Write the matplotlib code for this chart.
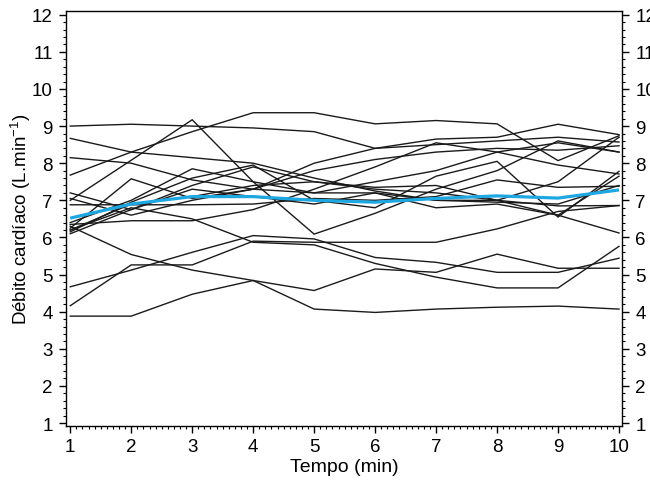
import matplotlib
matplotlib.use("Agg")
import matplotlib.pyplot as plt
from matplotlib.ticker import MultipleLocator

plt.rcParams['font.family'] = ['Liberation Sans', 'DejaVu Sans']

tempo = [1, 2, 3, 4, 5, 6, 7, 8, 9, 10]

# individual subjects (L.min-1)
s01 = [3.88, 3.88, 4.47, 4.84, 4.07, 3.98, 4.07, 4.12, 4.15, 4.07]
s02 = [4.16, 5.26, 5.26, 5.90, 5.87, 5.87, 5.87, 6.23, 6.70, 6.86]
s03 = [4.67, 5.12, 5.60, 6.05, 5.96, 5.46, 5.33, 5.06, 5.06, 5.44]
s04 = [6.30, 5.54, 5.12, 4.84, 4.57, 5.15, 5.06, 5.55, 5.17, 5.17]
s05 = [6.20, 6.80, 6.50, 5.87, 5.80, 5.30, 4.93, 4.64, 4.64, 5.76]
s06 = [9.00, 9.05, 9.00, 8.95, 8.85, 8.40, 8.50, 8.60, 8.70, 8.57]
s07 = [7.68, 8.30, 8.85, 9.36, 9.36, 9.06, 9.15, 9.06, 8.07, 8.74]
s08 = [7.00, 8.08, 9.17, 7.50, 6.09, 6.65, 7.30, 7.80, 8.60, 8.30]
s09 = [8.67, 8.30, 8.15, 8.00, 7.60, 7.25, 7.00, 7.00, 6.60, 6.12]
s10 = [8.15, 8.00, 7.55, 7.30, 7.20, 7.50, 7.80, 8.30, 7.95, 7.71]
s11 = [7.20, 6.75, 7.40, 7.90, 7.50, 7.30, 7.20, 7.00, 6.85, 6.86]
s12 = [7.05, 6.60, 7.00, 7.30, 8.00, 8.40, 8.65, 8.70, 9.05, 8.77]
s13 = [6.88, 6.88, 6.88, 6.90, 7.05, 7.00, 7.10, 7.55, 7.35, 7.38]
s14 = [6.40, 7.00, 7.85, 7.50, 7.20, 7.20, 6.80, 6.90, 6.60, 7.65]
s15 = [6.35, 6.45, 6.45, 6.75, 7.30, 7.90, 8.55, 8.30, 8.55, 8.30]
s16 = [6.25, 7.58, 7.05, 7.30, 7.80, 8.10, 8.30, 8.40, 8.35, 8.47]
s17 = [6.15, 6.95, 7.60, 7.95, 7.00, 6.80, 7.65, 8.05, 6.55, 7.78]
s18 = [6.20, 6.90, 7.10, 7.40, 7.50, 7.35, 7.40, 7.00, 7.50, 8.70]
s19 = [6.10, 6.75, 7.30, 7.10, 6.90, 7.20, 7.00, 6.95, 6.90, 7.40]

media = [6.52, 6.90, 7.10, 7.10, 7.00, 6.95, 7.05, 7.12, 7.06, 7.28]

sujeitos = [s01, s02, s03, s04, s05, s06, s07, s08, s09, s10,
            s11, s12, s13, s14, s15, s16, s17, s18, s19]

fig = plt.figure(figsize=(6.5, 4.85), dpi=100)
ax = fig.add_axes([0.1015, 0.1196, 0.8555, 0.8556])

for s in sujeitos:
    ax.plot(tempo, s, color='#1a1a1a', lw=1.0, solid_joinstyle='miter')
ax.plot(tempo, media, color='#1ea7e0', lw=2.3, solid_capstyle='butt')

ax.set_xlim(0.93, 10.05)
ax.set_ylim(0.92, 12.1)
ax.xaxis.set_major_locator(MultipleLocator(1))
ax.xaxis.set_minor_locator(MultipleLocator(0.1))
ax.yaxis.set_major_locator(MultipleLocator(1))
ax.yaxis.set_minor_locator(MultipleLocator(0.2))

ax.tick_params(axis='both', which='major', direction='out', length=5, width=1.0,
               labelsize=13.5)
ax.tick_params(axis='y', which='major', pad=4.5)
ax.tick_params(axis='x', which='major', pad=4)
ax.tick_params(axis='both', which='minor', direction='out', length=2.5, width=0.8)
ax.tick_params(axis='y', which='both', right=True, labelright=True)
ax.tick_params(axis='x', which='both', top=False)
for sp in ax.spines.values():
    sp.set_linewidth(1.0)

ax.set_xlabel('Tempo (min)', fontsize=14, labelpad=1.5)
ax.set_ylabel(r'Débito cardíaco (L.min$^{\mathregular{-1}}$)', fontsize=13.5, labelpad=-1)

fig.savefig('out.png', dpi=100)
